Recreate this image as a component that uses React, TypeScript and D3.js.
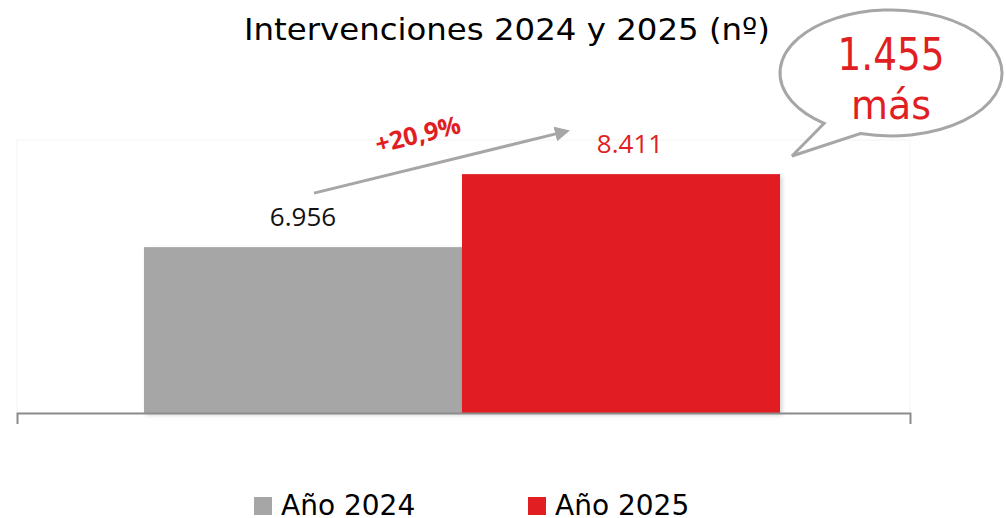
import React from "react";
import * as d3 from "d3";

const categories = ["Año 2024", "Año 2025"];
const values = [6956, 8411];
const valueLabels = ["6.956", "8.411"];
const colors = ["#a6a6a6", "#e11e22"];
const labelColors = ["#111111", "#e11e22"];
const title = "Intervenciones 2024 y 2025 (nº)";
const changeLabel = "+20,9%";
const bubbleLines = ["1.455", "más"];

const W = 1006;
const H = 518;

export default function App() {
  const x = d3.scaleBand<string>().domain(categories).range([144, 780]).paddingInner(0).paddingOuter(0);
  const y = d3.scaleLinear().domain([3650, 10000]).range([413, 94.4]);
  const font = "'Open Sans', 'DejaVu Sans', sans-serif";
  const titleFont = "'DejaVu Sans', sans-serif";
  const bw = x.bandwidth();
  const c0 = (x(categories[0]) as number) + bw / 2;
  const c1 = (x(categories[1]) as number) + bw / 2;
  const y0 = y(values[0]);
  const y1 = y(values[1]);
  const ax1 = c0 + 11, ay1 = y0 - 54;
  const ax2 = c1 - 54, ay2 = y1 - 43;
  const ang = (Math.atan2(ay2 - ay1, ax2 - ax1) * 180) / Math.PI;

  const bx = 891, by = 73, rx = 111, ry = 63;
  const bubblePath = (() => {
    const a1 = (127 * Math.PI) / 180;
    const a2 = (106 * Math.PI) / 180;
    const p1 = [bx + rx * Math.cos(a1), by + ry * Math.sin(a1)];
    const p2 = [bx + rx * Math.cos(a2), by + ry * Math.sin(a2)];
    const tip = [792, 156];
    return `M${p2[0]},${p2[1]} A${rx},${ry} 0 1,0 ${p1[0]},${p1[1]} L${tip[0]},${tip[1]} Z`;
  })();

  return (
    <svg width={W} height={H} style={{ position: "absolute", left: 0, top: 0, background: "#fff" }}>
      <defs>
        <filter id="sh" x="-10%" y="-10%" width="120%" height="120%">
          <feDropShadow dx="2" dy="2" stdDeviation="2" floodColor="#000" floodOpacity="0.18" />
        </filter>
        <marker id="ah" viewBox="0 0 10 10" refX="8" refY="5" markerWidth="5" markerHeight="5" orient="auto">
          <path d="M0,0 L10,5 L0,10 Z" fill="#a6a6a6" />
        </marker>
      </defs>
      <text x={507} y={40} textAnchor="middle" fontFamily={titleFont} fontSize={31} fill="#000" textLength={526} lengthAdjust="spacingAndGlyphs">
        {title}
      </text>
      <rect x={17} y={140} width={893} height={273} fill="none" stroke="#f4f4f4" strokeWidth={1} />
      {categories.map((c, i) => (
        <rect key={c} x={x(c)} y={y(values[i])} width={bw} height={413 - y(values[i])} fill={colors[i]} filter="url(#sh)" />
      ))}
      <path d="M17.5,424 V413.5 H910.5 V424" fill="none" stroke="#8c8c8c" strokeWidth={2} />
      {categories.map((c, i) => (
        <text key={c} x={(x(c) as number) + bw / 2 + (i === 1 ? 9 : 0)} y={y(values[i]) - 21} textAnchor="middle" fontFamily={font} fontSize={26} fill={labelColors[i]}>
          {valueLabels[i]}
        </text>
      ))}
      <line x1={ax1} y1={ay1} x2={ax2} y2={ay2} stroke="#a6a6a6" strokeWidth={3} markerEnd="url(#ah)" />
      <text
        x={420}
        y={143}
        textAnchor="middle"
        fontFamily={font}
        fontWeight={700}
        fontSize={25}
        fill="#e11e22"
        transform={`rotate(${ang}, 420, 143)`}
      >
        {changeLabel}
      </text>
      <path d={bubblePath} fill="#fff" stroke="#a6a6a6" strokeWidth={3} strokeLinejoin="miter" />
      <text x={891} y={70} textAnchor="middle" fontFamily={titleFont} fontSize={44} fill="#e11e22" textLength={107} lengthAdjust="spacingAndGlyphs">
        {bubbleLines[0]}
      </text>
      <text x={891} y={119} textAnchor="middle" fontFamily={titleFont} fontSize={40} fill="#e11e22" textLength={80} lengthAdjust="spacingAndGlyphs">
        {bubbleLines[1]}
      </text>
      {categories.map((c, i) => (
        <g key={c} transform={`translate(${i === 0 ? 254 : 528},0)`}>
          <rect x={0} y={497} width={18} height={18} fill={colors[i]} />
          <text x={27} y={515} fontFamily={titleFont} fontSize={28} fill="#000">
            {c}
          </text>
        </g>
      ))}
    </svg>
  );
}
